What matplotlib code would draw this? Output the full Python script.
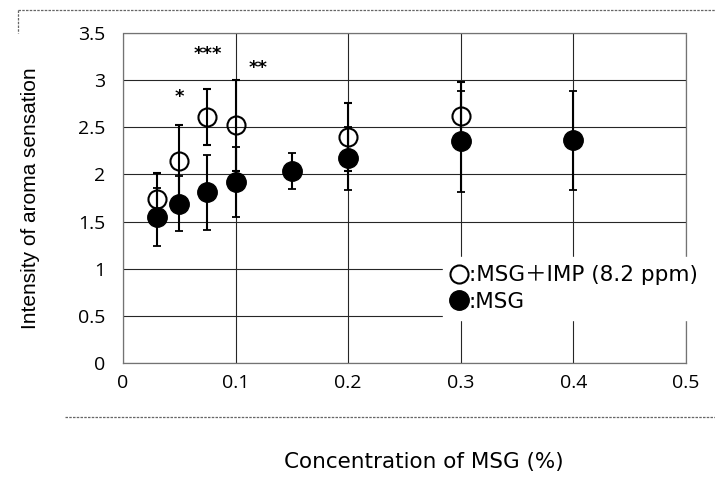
import matplotlib
matplotlib.use("Agg")
import matplotlib.pyplot as plt
from matplotlib.lines import Line2D
from matplotlib.ticker import FuncFormatter

# MSG + IMP (8.2 ppm)
x_imp = [0.03, 0.05, 0.075, 0.1, 0.2, 0.3]
y_imp = [1.74, 2.14, 2.61, 2.52, 2.40, 2.62]
err_imp = [0.27, 0.38, 0.30, 0.48, 0.36, 0.36]

# MSG only
x_msg = [0.03, 0.05, 0.075, 0.1, 0.15, 0.2, 0.3, 0.4]
y_msg = [1.55, 1.69, 1.81, 1.92, 2.04, 2.17, 2.35, 2.36]
err_msg = [0.31, 0.29, 0.40, 0.37, 0.19, 0.33, 0.54, 0.52]

# significance marks
sig_x = [0.05, 0.075, 0.12]
sig_y = [2.82, 3.28, 3.13]
sig_txt = ["*", "***", "**"]

x_ticks = [0, 0.1, 0.2, 0.3, 0.4, 0.5]
y_ticks = [0, 0.5, 1, 1.5, 2, 2.5, 3, 3.5]

wide = ["DejaVu Sans", "Noto Sans CJK JP"]

fig = plt.figure(figsize=(7.15, 4.87), dpi=100)
ax = fig.add_axes([123 / 715, 1 - 363 / 487, 563 / 715, 330 / 487])

ax.set_xlim(0, 0.5)
ax.set_ylim(0, 3.5)
ax.set_xticks(x_ticks)
ax.set_yticks(y_ticks)
ax.xaxis.set_major_formatter(FuncFormatter(lambda v, p: "%g" % v))
ax.yaxis.set_major_formatter(FuncFormatter(lambda v, p: "%g" % v))
ax.tick_params(length=0, labelsize=14)
ax.tick_params(axis="y", pad=13)
ax.tick_params(axis="x", pad=8)
for lab in ax.get_xticklabels() + ax.get_yticklabels():
    lab.set_family("Open Sans")

ax.grid(True, color="0.15", lw=0.8)
ax.set_axisbelow(True)
for s in ax.spines.values():
    s.set_color("0.45")
    s.set_linestyle((0, (2, 1)))
    s.set_linewidth(0.9)

ax.errorbar(x_imp, y_imp, yerr=err_imp, fmt="o", color="black", ms=13,
            mfc="none", mew=1.5, ecolor="black", elinewidth=1.5, capsize=3,
            capthick=1.3, label=":MSG＋IMP (8.2 ppm)", zorder=3)
ax.errorbar(x_msg, y_msg, yerr=err_msg, fmt="o", color="black", ms=14,
            ecolor="black", elinewidth=1.5, capsize=3, capthick=1.3,
            label=":MSG", zorder=4)

for sx, sy, st in zip(sig_x, sig_y, sig_txt):
    ax.text(sx, sy, st, ha="center", va="center", fontsize=13,
            fontweight="bold", family="DejaVu Sans")

ax.set_ylabel("Intensity of aroma sensation", fontsize=15,
              family="Liberation Sans")
ax.yaxis.set_label_coords(-0.148, 0.5)
ax.set_xlabel("Concentration of MSG (%)", fontsize=15.5, family=wide)
ax.xaxis.set_label_coords(0.535, -0.27)

h, l = ax.get_legend_handles_labels()
h = [hh[0] for hh in h]
leg = ax.legend(h, l, loc="upper left", fontsize=15.5,
                bbox_to_anchor=(432 / 715, 1 - 246 / 487),
                bbox_transform=fig.transFigure, frameon=True,
                facecolor="white", edgecolor="white", framealpha=1,
                handlelength=0.7, handletextpad=0.1, labelspacing=0.3,
                borderpad=0.4, prop={"family": wide, "size": 15.5})
leg.set_zorder(5)

# outer chart-area border pieces
dash = dict(color="0.4", lw=0.9, ls=(0, (2, 1)))
fig.add_artist(Line2D([18 / 715, 1], [1 - 10 / 487, 1 - 10 / 487], **dash))
fig.add_artist(Line2D([18 / 715, 18 / 715], [1 - 10 / 487, 1 - 33 / 487], **dash))
fig.add_artist(Line2D([65 / 715, 1], [1 - 417 / 487, 1 - 417 / 487], **dash))

fig.savefig("out.png", dpi=100)
